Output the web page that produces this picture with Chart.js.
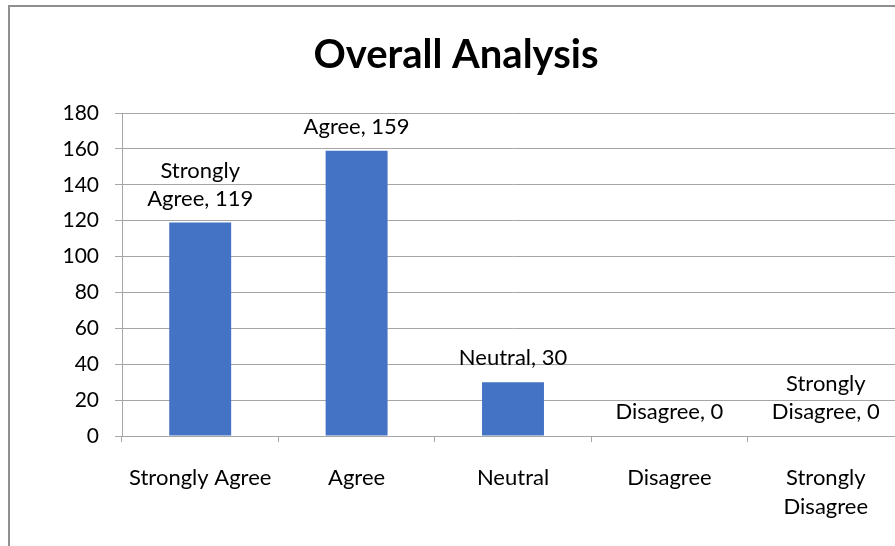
<!DOCTYPE html>
<html>
<head>
<meta charset="utf-8">
<script src="https://cdn.jsdelivr.net/npm/chart.js@4.4.1/dist/chart.umd.min.js"></script>
<style>
  html, body { margin: 0; padding: 0; background: #fff; overflow: hidden; }
  #frame {
    position: absolute; left: 8px; top: 5px;
    width: 1000px; height: 600px;
    border-left: 2px solid #8f8f8f;
    border-top: 2px solid #8f8f8f;
  }
  #wrap { position: absolute; left: 10px; top: 7px; width: 920px; height: 539px; }
</style>
</head>
<body>
<div id="frame"></div>
<div id="wrap"><canvas id="myChart"></canvas></div>
<script>
const chartTitle = 'Overall Analysis';
const categories = ['Strongly Agree', 'Agree', 'Neutral', 'Disagree', ['Strongly', 'Disagree']];
const counts = [119, 159, 30, 0, 0];
const dataLabels = [['Strongly', 'Agree, 119'], ['Agree, 159'], ['Neutral, 30'], ['Disagree, 0'], ['Strongly', 'Disagree, 0']];
const yTicks = [0, 20, 40, 60, 80, 100, 120, 140, 160, 180];

const FONT = 'Lato, "Open Sans", sans-serif';
const GRID = '#a6a6a6';

// data labels over the bars, excel style
const barLabels = {
  id: 'barLabels',
  afterDatasetsDraw(chart) {
    const ctx = chart.ctx;
    const meta = chart.getDatasetMeta(0);
    ctx.save();
    ctx.font = '22px ' + FONT;
    ctx.fillStyle = '#000';
    ctx.textAlign = 'center';
    ctx.textBaseline = 'middle';
    meta.data.forEach((bar, i) => {
      const lines = dataLabels[i];
      for (let j = 0; j < lines.length; j++) {
        const y = bar.y - 24 - (lines.length - 1 - j) * 28;
        ctx.fillText(lines[j], bar.x, y);
      }
    });
    ctx.restore();
  }
};

// title centred on the whole chart frame, not the plot
const frameTitle = {
  id: 'frameTitle',
  afterDraw(chart) {
    const ctx = chart.ctx;
    ctx.save();
    ctx.font = 'bold 40px ' + FONT;
    ctx.fillStyle = '#000';
    ctx.textAlign = 'center';
    ctx.textBaseline = 'middle';
    ctx.fillText(chartTitle, 446, 48);
    ctx.restore();
  }
};

document.addEventListener('DOMContentLoaded', () => {
  const ctx = document.getElementById('myChart');
  new Chart(ctx, {
    type: 'bar',
    data: {
      labels: categories,
      datasets: [{
        data: counts,
        backgroundColor: '#4472c4',
        borderWidth: 0,
        barPercentage: 0.396,
        categoryPercentage: 1
      }]
    },
    options: {
      responsive: true,
      maintainAspectRatio: false,
      animation: false,
      layout: { padding: { left: 0, right: 26, top: 106, bottom: 0 } },
      plugins: {
        legend: { display: false },
        title: { display: false },
        tooltip: { enabled: false }
      },
      scales: {
        x: {
          grid: { display: true, drawOnChartArea: false, color: GRID, tickLength: 6, offset: true },
          border: { color: GRID, width: 1 },
          ticks: { color: '#000', font: { family: FONT, size: 22, lineHeight: 1.3 }, padding: 22, maxRotation: 0, autoSkip: false },
          afterFit(scale) { scale.height = 110; }
        },
        y: {
          min: 0,
          max: 180,
          afterBuildTicks(scale) { scale.ticks = yTicks.map(v => ({ value: v })); },
          grid: { color: GRID, tickLength: 7 },
          border: { color: GRID, width: 1 },
          ticks: { color: '#000', font: { family: FONT, size: 21 }, padding: 16 },
          afterFit(scale) { scale.width = 112; }
        }
      }
    },
    plugins: [barLabels, frameTitle]
  });
});
</script>
</body>
</html>
